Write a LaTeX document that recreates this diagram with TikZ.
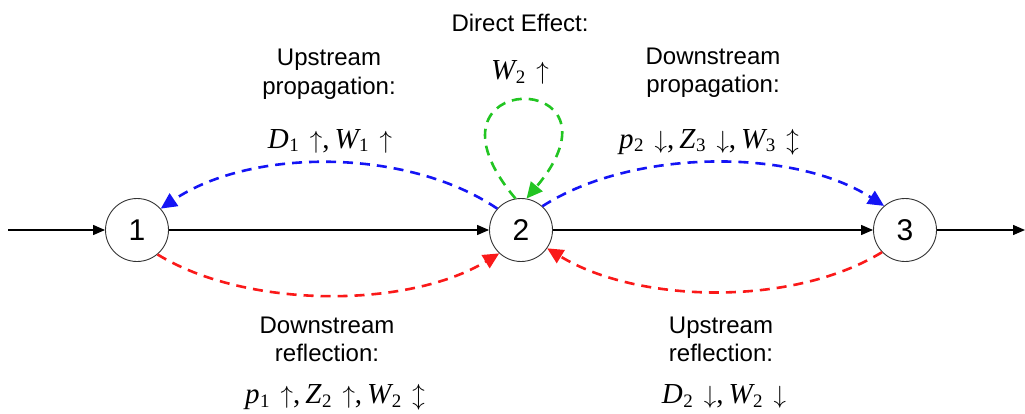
\documentclass[tikz,border=0pt]{standalone}
\usepackage{fontspec}
\setmainfont{Liberation Sans}
\newfontfamily\tms{Liberation Serif}
\usetikzlibrary{arrows.meta}
\newcommand\mv[1]{{\tms\itshape #1}}
\newcommand\msb[1]{\kern0.5pt\raisebox{-4pt}{\fontsize{19}{19}\selectfont\tms #1}}
\newcommand\arr[1]{\hspace{11pt}$#1$}
\newcommand\cm{,\hspace{5pt}}
\definecolor{effblue}{RGB}{20,20,245}
\definecolor{effred}{RGB}{250,25,25}
\definecolor{effgreen}{RGB}{34,197,34}
\begin{document}
\begin{tikzpicture}[x=1pt,y=1pt,
  st/.style={circle, draw=black!80, line width=0.9pt, minimum size=63pt, inner sep=0pt, font=\fontsize{30}{30}\selectfont},
  flow/.style={line width=1.3pt, -{Triangle[length=12pt,width=10pt]}},
  eff/.style={line width=2.6pt, dash pattern=on 10pt off 7pt, -{Triangle[length=16pt,width=15pt]}},
  lbl/.style={font=\fontsize{24}{24}\selectfont, anchor=base, inner sep=0pt},
  mth/.style={font=\fontsize{29}{29}\selectfont\tms, anchor=base, inner sep=0pt}]
\useasboundingbox (0,0) rectangle (1025,413);
\node[st] (n1) at (137,183) {1};
\node[st] (n2) at (521,183) {2};
\node[st] (n3) at (905,183) {3};
\coordinate (in) at (8,183);
\coordinate (out) at (1025,183);
\draw[flow] (in) -- (n1);
\draw[flow] (n1) -- (n2);
\draw[flow] (n2) -- (n3);
\draw[flow] (n3) -- (out);
% effects
\draw[eff, effblue] (n2.138) .. controls +(-90,61) and +(90,61) .. (n1.42);
\draw[eff, effblue] (n2.48) .. controls +(90,58) and +(-90,58) .. (n3.131);
\draw[eff, effred] (n1.310) .. controls +(90,-55) and +(-90,-55) .. (n2.227);
\draw[eff, effred] (n3.224) .. controls +(-90,-55) and +(90,-55) .. (n2.325);
\draw[eff, effgreen] (n2.100) .. controls +(-110,131) and +(110,131) .. (n2.80);
% labels
\node[lbl] (de) at (520,381) {Direct Effect:};
\node[mth] (dem) at (520,333) {\mv{W}\msb{2}\arr{\uparrow}};
\node[lbl] (up1) at (329,347) {Upstream};
\node[lbl] (up2) at (329,318) {propagation:};
\node[mth] (upm) at (330,265) {\mv{D}\msb{1}\arr{\uparrow}\cm\mv{W}\msb{1}\arr{\uparrow}};
\node[lbl] (dp1) at (713,348) {Downstream};
\node[lbl] (dp2) at (713,320) {propagation:};
\node[mth] (dpm) at (709,265) {\mv{p}\msb{2}\arr{\downarrow}\cm\mv{Z}\msb{3}\arr{\downarrow}\cm\mv{W}\msb{3}\arr{\updownarrow}};
\node[lbl] (dr1) at (327,80) {Downstream};
\node[lbl] (dr2) at (327,52) {reflection:};
\node[mth] (drm) at (335,10) {\mv{p}\msb{1}\arr{\uparrow}\cm\mv{Z}\msb{2}\arr{\uparrow}\cm\mv{W}\msb{2}\arr{\updownarrow}};
\node[lbl] (ur1) at (721,80) {Upstream};
\node[lbl] (ur2) at (721,52) {reflection:};
\node[mth] (urm) at (724,10) {\mv{D}\msb{2}\arr{\downarrow}\cm\mv{W}\msb{2}\arr{\downarrow}};
\end{tikzpicture}
\end{document}
